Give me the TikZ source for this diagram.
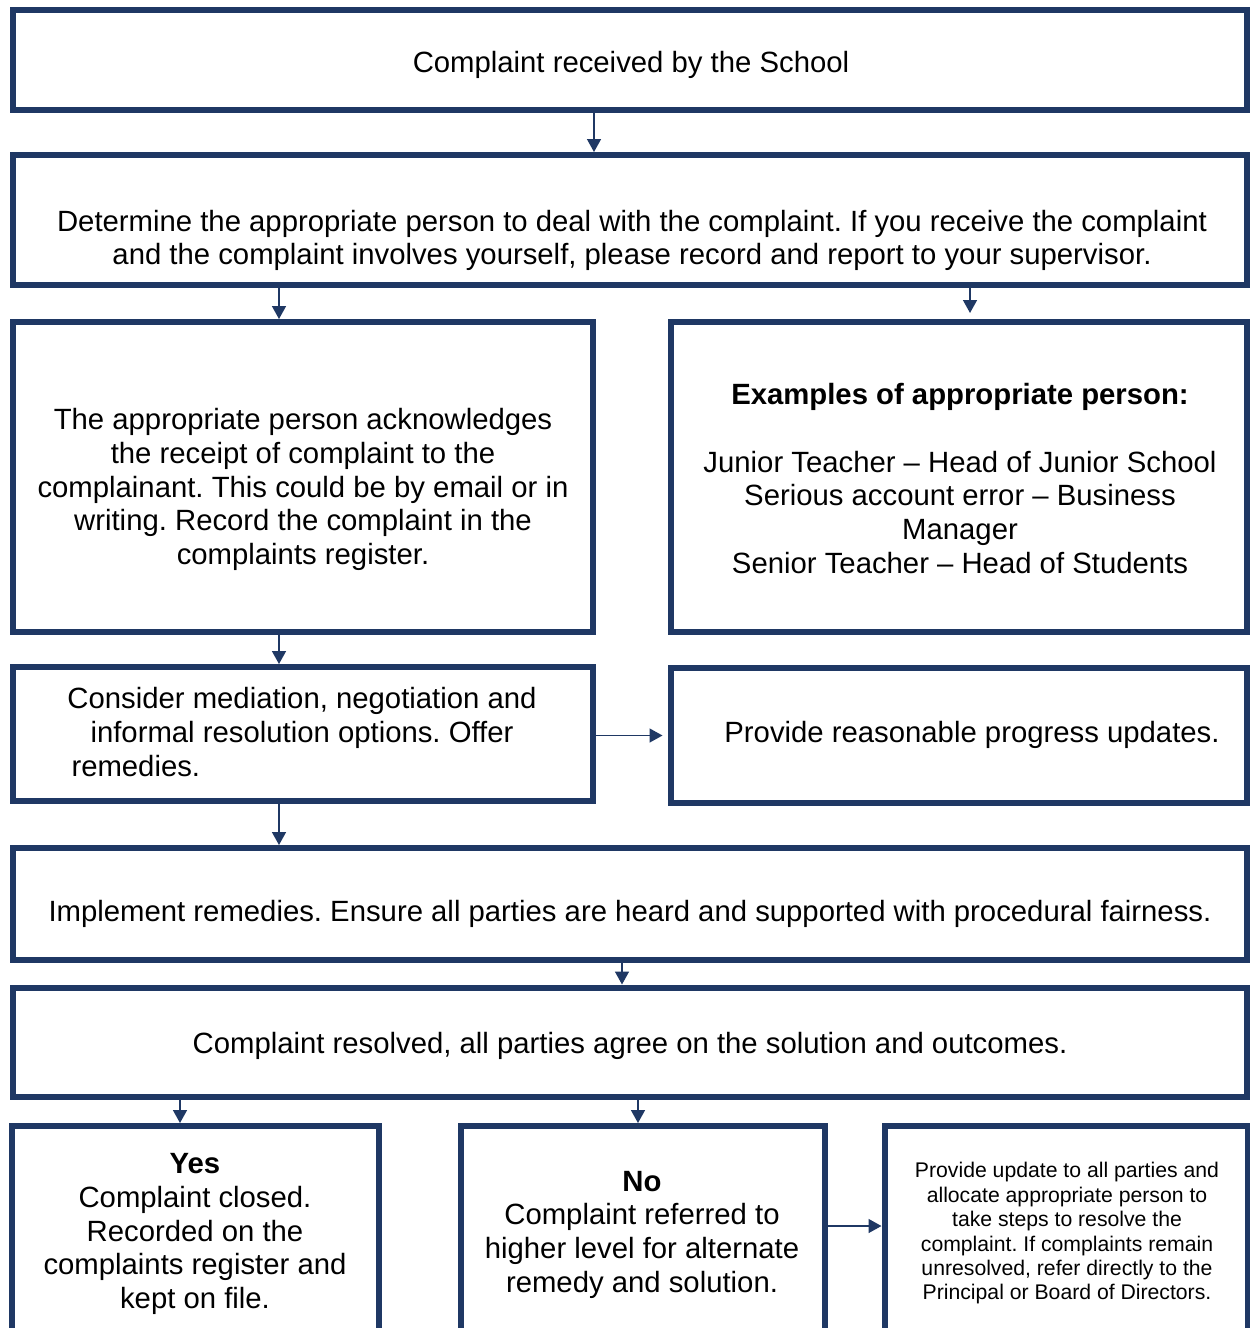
\documentclass[tikz,border=0pt]{standalone}
\usepackage{fontspec}
\setmainfont{Liberation Sans}
\usetikzlibrary{arrows.meta}
\usetikzlibrary{positioning}
\frenchspacing
\definecolor{navy}{RGB}{31,56,100}
\tikzset{box/.style = {draw=navy, line width=6pt, fill=white, inner sep=0}}
\tikzset{txt/.style = {align=center, inner sep=0, yshift=-3pt, font=\fontsize{29.3pt}{33.7pt}\selectfont}}
\tikzset{smalltxt/.style = {align=center, inner sep=0, yshift=-2pt, font=\fontsize{21.2pt}{24.4pt}\selectfont}}
\tikzset{arr/.style = {draw=navy, line width=1.5pt, -{Triangle[length=13pt,width=14pt]}}}

\begin{document}
\begin{tikzpicture}[x=1pt,y=1pt]
        \useasboundingbox (0,0) rectangle (1250,-1328);
        \clip (0,0) rectangle (1250,-1328);
        \fill [white] (0,0) rectangle (1250,-1328);
        % boxes
        \node [box, minimum width=1234pt, minimum height=100pt] (recv) at (630,-60) {};
        \node [box, minimum width=1234pt, minimum height=130pt] (det) at (630,-220) {};
        \node [box, minimum width=579.5pt, minimum height=310pt] (ack) at (302.75,-477) {};
        \node [box, minimum width=576.5pt, minimum height=310pt] (ex) at (958.75,-477) {};
        \node [box, minimum width=579.5pt, minimum height=134pt] (med) at (302.75,-734) {};
        \node [box, minimum width=576.5pt, minimum height=135pt] (upd) at (958.75,-735) {};
        \node [box, minimum width=1234pt, minimum height=112pt] (imp) at (630,-904) {};
        \node [box, minimum width=1234pt, minimum height=109pt] (res) at (630,-1042) {};
        \node [box, minimum width=367.5pt, minimum height=214pt] (yes) at (195.25,-1233) {};
        \node [box, minimum width=363.5pt, minimum height=214pt] (no) at (642.75,-1233) {};
        \node [box, minimum width=363pt, minimum height=214pt] (prov) at (1066,-1233) {};
        % texts
        \node [txt] (recvt) at (631,-62) {Complaint received by the School};
        \node [txt] (dett) at (632,-237.5) {Determine the appropriate person to deal with the complaint. If you receive the complaint\\
            and the complaint involves yourself, please record and report to your supervisor.};
        \node [txt] (ackt) at (303,-486.5) {The appropriate person acknowledges\\ the receipt of complaint to the\\
            complainant. This could be by email or in\\ writing. Record the complaint in the\\ complaints register.};
        \node [txt] (ext) at (960,-475.5) {\textbf{Examples of appropriate person:}\\[33.7pt]
            Junior Teacher -- Head of Junior School\\ Serious account error -- Business\\ Manager\\
            Senior Teacher -- Head of Students};
        \node [txt] (medt) at (302,-729) {Consider mediation, negotiation and\\ informal resolution options. Offer\\
            \makebox[469pt][l]{\hspace{4pt}remedies.}};
        \node [txt] (updt) at (972,-732) {Provide reasonable progress updates.};
        \node [txt] (impt) at (630,-911) {Implement remedies. Ensure all parties are heard and supported with procedural fairness.};
        \node [txt] (rest) at (630,-1043) {Complaint resolved, all parties agree on the solution and outcomes.};
        \node [txt] (yest) at (195,-1231) {\textbf{Yes}\\ Complaint closed.\\ Recorded on the\\ complaints register and\\ kept on file.};
        \node [txt] (not) at (642,-1231.5) {\textbf{No}\\ Complaint referred to\\ higher level for alternate\\ remedy and solution.};
        \node [smalltxt] (provt) at (1067,-1231.5) {Provide update to all parties and\\ allocate appropriate person to\\ take steps to resolve the\\
            complaint. If complaints remain\\ unresolved, refer directly to the\\ Principal or Board of Directors.};
        % arrows
        \draw [arr] (recv.south -| 594,0) -- (det.north -| 594,0);
        \draw [arr] (det.south -| 279,0) -- (ack.north -| 279,0);
        \draw [arr, shorten >=6pt] (det.south -| 970,0) -- (ex.north -| 970,0);
        \draw [arr] (ack.south -| 279,0) -- (med.north -| 279,0);
        \draw [arr, shorten >=5pt] (med.east |- 0,-735.5) -- (upd.west |- 0,-735.5);
        \draw [arr] (med.south -| 279,0) -- (imp.north -| 279,0);
        \draw [arr] (imp.south -| 622,0) -- (res.north -| 622,0);
        \draw [arr] (res.south -| 180,0) -- (yes.north -| 180,0);
        \draw [arr] (res.south -| 638,0) -- (no.north -| 638,0);
        \draw [arr] (no.east |- 0,-1226) -- (prov.west |- 0,-1226);
    \end{tikzpicture}
\end{document}
